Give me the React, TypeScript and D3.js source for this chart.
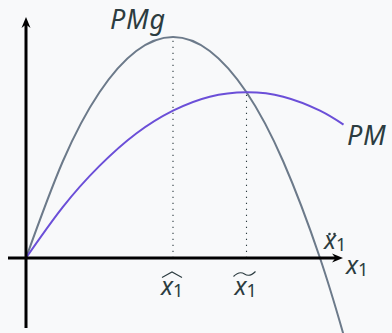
import React from "react";
import * as d3 from "d3";

// Input level x1 and the two product curves sampled along it
const inputLevels = [0, 0.25, 0.5, 0.75, 1, 1.25, 1.5, 1.75, 2, 2.16];
const marginalProduct = [0, 1.31, 2.25, 2.81, 3, 2.81, 2.25, 1.31, 0, -1.04];
const averageProduct = [0, 0.69, 1.25, 1.69, 2, 2.19, 2.25, 2.19, 2, 1.81];

// Key input levels: max of PMg, max of PM (PM = PMg), PMg = 0
const xHat = 1;
const xTilde = 1.5;
const xDdot = 2;

const curveNames = ["PMg", "PM"];

const W = 392;
const H = 333;
const ink = "#2c3c40";
const grayCurve = "#6c7a8a";
const purpleCurve = "#6b4fd8";
const font = "'Noto Sans', 'DejaVu Sans', sans-serif";

export default function App() {
  const x = d3.scaleLinear().domain([0, 1]).range([26, 173]);
  const y = d3.scaleLinear().domain([0, 3]).range([258, 37]);

  const pmgPts: [number, number][] = inputLevels.map((v, i) => [v, marginalProduct[i]]);
  const pmPts: [number, number][] = inputLevels.map((v, i) => [v, averageProduct[i]]);

  const line = d3
    .line<[number, number]>()
    .x((d) => x(d[0]))
    .y((d) => y(d[1]))
    .curve(d3.curveNatural);

  const ox = x(0);
  const oy = y(0);
  const pmAt = (v: number) => averageProduct[inputLevels.indexOf(v)];
  const pmgAt = (v: number) => marginalProduct[inputLevels.indexOf(v)];

  const hx = x(xHat);
  const tx = x(xTilde);
  const dx = x(xDdot);

  return (
    <svg
      width={W}
      height={H}
      style={{ position: "absolute", left: 0, top: 0, background: "#f8f9fa" }}
    >
      <rect width={W} height={H} fill="#f8f9fa" />

      {/* dotted guides */}
      <line x1={hx} x2={hx} y1={oy} y2={y(pmgAt(xHat)) + 2} stroke={ink} strokeWidth={1.1} strokeDasharray="1.2 4.8" />
      <line x1={tx} x2={tx} y1={oy} y2={y(pmAt(xTilde)) + 2} stroke={ink} strokeWidth={1.1} strokeDasharray="1.2 4.8" />

      {/* curves */}
      <path d={line(pmgPts) || ""} fill="none" stroke={grayCurve} strokeWidth={2} />
      <path d={line(pmPts) || ""} fill="none" stroke={purpleCurve} strokeWidth={2} />

      {/* axes */}
      <line x1={8} x2={336} y1={oy} y2={oy} stroke="#000" strokeWidth={3} />
      <path d={`M343,${oy} L332,${oy + 4.5} L335.5,${oy} L332,${oy - 4.5} Z`} fill="#000" />
      <line x1={ox} x2={ox} y1={328} y2={24} stroke="#000" strokeWidth={3} />
      <path d={`M${ox},17 L${ox + 4.5},28 L${ox},24.5 L${ox - 4.5},28 Z`} fill="#000" />

      {/* curve labels */}
      <text x={110} y={29} fontFamily={font} fontStyle="italic" fontSize={27} letterSpacing={0.8} fill={ink}>
        {curveNames[0]}
      </text>
      <text x={347} y={145} fontFamily={font} fontStyle="italic" fontSize={27} letterSpacing={0.8} fill={ink}>
        {curveNames[1]}
      </text>

      {/* x-hat */}
      <text x={hx - 12} y={295} fontFamily={font} fontSize={25} fill={ink}>
        <tspan fontStyle="italic">x</tspan>
        <tspan fontSize={18} dy={2}>1</tspan>
      </text>
      <path d={`M${hx - 11},277.5 L${hx - 1},272 L${hx + 9},277.5`} fill="none" stroke={ink} strokeWidth={1.1} />

      {/* x-tilde */}
      <text x={tx - 12} y={295} fontFamily={font} fontSize={25} fill={ink}>
        <tspan fontStyle="italic">x</tspan>
        <tspan fontSize={18} dy={2}>1</tspan>
      </text>
      <path
        d={`M${tx - 13},276.5 Q${tx - 7},270.5 ${tx - 2},274 T${tx + 9},271.5`}
        fill="none"
        stroke={ink}
        strokeWidth={1.1}
      />

      {/* x-double-dot */}
      <text x={dx + 4} y={249} fontFamily={font} fontSize={25} fill={ink}>
        <tspan fontStyle="italic">x</tspan>
        <tspan fontSize={18} dy={2}>1</tspan>
      </text>
      <circle cx={dx + 9.5} cy={234} r={1.3} fill={ink} />
      <circle cx={dx + 14.5} cy={234} r={1.3} fill={ink} />

      {/* axis label */}
      <text x={346} y={274} fontFamily={font} fontSize={25} fill={ink}>
        <tspan fontStyle="italic">x</tspan>
        <tspan fontSize={18} dy={2}>1</tspan>
      </text>
    </svg>
  );
}
